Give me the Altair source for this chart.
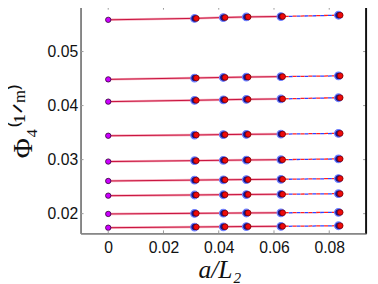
import altair as alt
import pandas as pd

# ---- data ----
a_over_L = [0.03125, 0.04167, 0.05, 0.0625, 0.08333]
phi_extrap = [0.05587, 0.04485, 0.04073, 0.03442, 0.02964, 0.02605, 0.02333, 0.01995, 0.01740]
phi_blue = [
    [0.05612, 0.05628, 0.05640, 0.05648, 0.05672],
    [0.04510, 0.04520, 0.04527, 0.04535, 0.04550],
    [0.04097, 0.04107, 0.04115, 0.04123, 0.04145],
    [0.03455, 0.03462, 0.03467, 0.03472, 0.03485],
    [0.02980, 0.02987, 0.02992, 0.02998, 0.03013],
    [0.02620, 0.02626, 0.02630, 0.02635, 0.02649],
    [0.02345, 0.02350, 0.02354, 0.02358, 0.02369],
    [0.02005, 0.02009, 0.02012, 0.02015, 0.02024],
    [0.01752, 0.01757, 0.01761, 0.01765, 0.01776],
]
phi_red = [
    [0.05614, 0.05630, 0.05641, 0.05649, 0.05673],
    [0.04511, 0.04521, 0.04528, 0.04536, 0.04551],
    [0.04098, 0.04108, 0.04116, 0.04124, 0.04146],
    [0.03456, 0.03463, 0.03468, 0.03473, 0.03486],
    [0.02981, 0.02988, 0.02993, 0.02999, 0.03014],
    [0.02621, 0.02627, 0.02631, 0.02636, 0.02650],
    [0.02346, 0.02351, 0.02355, 0.02359, 0.02370],
    [0.02006, 0.02010, 0.02013, 0.02016, 0.02025],
    [0.01753, 0.01758, 0.01762, 0.01766, 0.01777],
]
phi_err = [0.0004, 0.0002, 0.0002, 0.0002, 0.0002, 0.0002, 0.0002, 0.0002, 0.0006]
x_ticks = [0, 0.02, 0.04, 0.06, 0.08]
y_ticks = [0.02, 0.03, 0.04, 0.05]

W, H = 291, 231

# ---- tables ----
pts, solid, dashed, ext = [], [], [], []
for r in range(len(phi_extrap)):
    ext.append({"row": r, "x": 0.0, "y": phi_extrap[r]})
    solid.append({"row": r, "x": 0.0, "y": phi_extrap[r], "o": 0})
    for i, xv in enumerate(a_over_L):
        for s, vals in (("blue", phi_blue), ("red", phi_red)):
            pts.append({"row": r, "x": xv, "y": vals[r][i], "s": s,
                        "lo": vals[r][i] - phi_err[r], "hi": vals[r][i] + phi_err[r]})
        if i < 4:
            solid.append({"row": r, "x": xv, "y": phi_red[r][i], "o": i + 1})
    for s, vals in (("blue", phi_blue), ("red", phi_red)):
        for i in (3, 4):
            dashed.append({"row": r, "x": a_over_L[i], "y": vals[r][i], "s": s, "o": i})

pts = pd.DataFrame(pts)
solid = pd.DataFrame(solid)
dashed = pd.DataFrame(dashed)
ext = pd.DataFrame(ext)

xs = alt.Scale(domain=[-0.01, 0.09333], nice=False, zero=False)
ys = alt.Scale(domain=[0.01636, 0.0583], nice=False, zero=False)

X = alt.X("x:Q", scale=xs, axis=alt.Axis(values=x_ticks, format="~g", title="a/L₂",
                                          titleFont="Liberation Serif", titleFontStyle="italic",
                                          titleFontSize=26, titleFontWeight="normal",
                                          titleY=45, titleX=W / 2 - 4, titleBaseline="alphabetic",
                                          labelPadding=7))
Y = alt.Y("y:Q", scale=ys, axis=alt.Axis(values=y_ticks, format=".2f", title="Φ₄⁽¹ᐟᵐ⁾",
                                          titleFont="Liberation Serif", titleFontSize=28,
                                          titleFontWeight="normal", titleAngle=270,
                                          titleX=-58, titleY=116, titleBaseline="middle",
                                          labelPadding=3))

band = alt.Chart(solid).mark_line(color="#f5a3b5", strokeWidth=2.5, opacity=0.9).encode(
    x=X, y=Y, detail="row:N", order="o:Q")
line = alt.Chart(solid).mark_line(color="#c8103c", strokeWidth=1).encode(
    x="x:Q", y="y:Q", detail="row:N", order="o:Q")
dash_b = alt.Chart(dashed[dashed.s == "blue"]).mark_line(
    color="#3040ff", strokeWidth=1.3, strokeDash=[4, 4]).encode(
    x="x:Q", y="y:Q", detail="row:N", order="o:Q")
dash_r = alt.Chart(dashed[dashed.s == "red"]).mark_line(
    color="#ff2020", strokeWidth=1.3, strokeDash=[4, 4], strokeDashOffset=4).encode(
    x="x:Q", y="y:Q", detail="row:N", order="o:Q")

err_b = alt.Chart(pts[pts.s == "blue"]).mark_rule(color="#2020ff", strokeWidth=1).encode(
    x="x:Q", y="lo:Q", y2="hi:Q")
err_r = alt.Chart(pts[pts.s == "red"]).mark_rule(color="#ff2020", strokeWidth=1).encode(
    x="x:Q", y="lo:Q", y2="hi:Q", xOffset=alt.value(1.5))

pt_b = alt.Chart(pts[pts.s == "blue"]).mark_point(
    shape="circle", filled=True, size=60, fill="#14148c", stroke="#7080ff",
    strokeWidth=1.2, opacity=1).encode(x="x:Q", y="y:Q")
pt_r = alt.Chart(pts[pts.s == "red"]).mark_point(
    shape="circle", filled=True, size=34, fill="#ee0a0a", stroke="#7a0000",
    strokeWidth=0.8, opacity=1).encode(x="x:Q", y="y:Q", xOffset=alt.value(1.8))
pt_m = alt.Chart(ext).mark_point(
    shape="circle", filled=True, size=30, fill="#cc00ff", stroke="#300030",
    strokeWidth=0.8, opacity=1).encode(x="x:Q", y="y:Q")

xt = pd.DataFrame({"t": x_ticks})
yt = pd.DataFrame({"t": y_ticks})
tick_b = alt.Chart(xt).mark_rule(color="#999999").encode(
    x="t:Q", y=alt.value(H), y2=alt.value(H - 3))
tick_t = alt.Chart(xt).mark_rule(color="#999999").encode(
    x="t:Q", y=alt.value(0), y2=alt.value(3))
tick_l = alt.Chart(yt).mark_rule(color="#999999").encode(
    y="t:Q", x=alt.value(0), x2=alt.value(3))
tick_r = alt.Chart(yt).mark_rule(color="#999999").encode(
    y="t:Q", x=alt.value(W), x2=alt.value(W - 3))
right_edge = alt.Chart(yt).mark_rule(color="#111111", strokeWidth=1).encode(
    x=alt.value(W), y=alt.value(0), y2=alt.value(H))

chart = alt.layer(band, line, dash_b, dash_r, err_b, err_r, pt_b, pt_r, pt_m,
                  tick_b, tick_t, tick_l, tick_r, right_edge).properties(
    width=W, height=H,
    autosize=alt.AutoSizeParams(type="none"),
    padding={"left": 74, "top": -4, "right": 4, "bottom": 50},
).configure_view(stroke="#111111", strokeWidth=1).configure_axis(
    grid=False, domainColor="#888888", domainWidth=1.5, ticks=False,
    labelFont="Liberation Sans", labelFontSize=16, labelColor="#111111",
    titleColor="#111111", zindex=1)

chart.save("out.html", embed_options={"renderer": "svg", "actions": False})
